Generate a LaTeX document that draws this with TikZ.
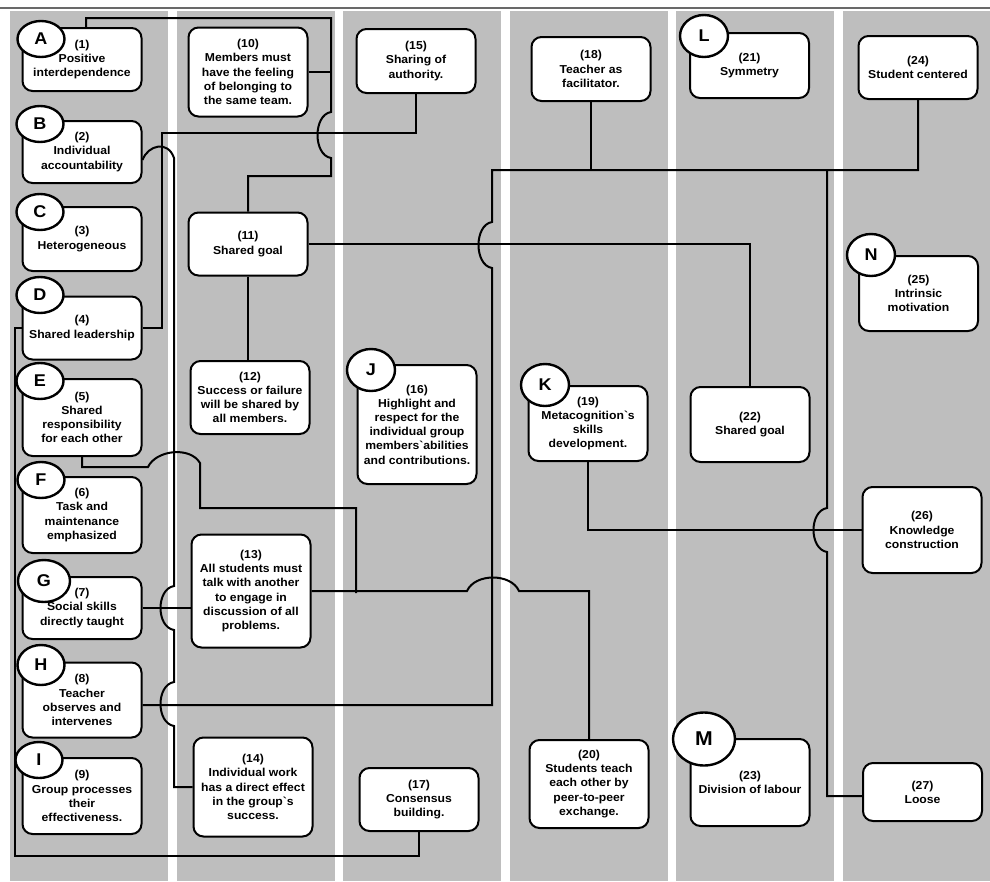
\documentclass[tikz,border=0pt]{standalone}
\usepackage{fontspec}
\setmainfont{Liberation Sans}[FakeStretch=1.06]
\usepackage{tikz}
\usetikzlibrary{shapes.geometric}
\definecolor{BandGray}{RGB}{190,190,190}
\definecolor{RuleGray}{RGB}{105,105,105}

\begin{document}
\begin{tikzpicture}[x=1pt, y=-1pt,
  box/.style={%
    rectangle, rounded corners=10pt,
    draw=black, line width=2pt, fill=white,
    font=\fontsize{11.5}{14.2}\selectfont\bfseries,
    minimum width=119pt, align=center, inner sep=3pt},
  tag/.style={%
    ellipse, draw=black, line width=2.4pt, fill=white,
    font=\fontsize{17}{17}\selectfont\bfseries,
    minimum width=47pt, minimum height=36pt, inner sep=0pt},
  link/.style={draw=black, line width=2pt}
]
\useasboundingbox (0,0) rectangle (990,881);
\fill[white] (0,0) rectangle (990,881);
\foreach \i in {0,...,5}
  \fill[BandGray] ({10+166.5*\i},11) rectangle ({min(168+166.5*\i,990)},881);
\draw[RuleGray, line width=1.5pt] (0,8) -- (990,8);

% column 1
\node[box, minimum height=63pt] (interdep) at (82,59.5) {(1)\\Positive\\interdependence};
\node[box, minimum height=62pt] (account)  at (82,152)  {(2)\\Individual\\accountability};
\node[box, minimum height=64pt] (hetero)   at (82,239)  {(3)\\Heterogeneous};
\node[box, minimum height=63pt] (leader)   at (82,328)  {(4)\\Shared leadership};
\node[box, minimum height=77pt] (respons)  at (82,417.5) {(5)\\Shared\\responsibility\\for each other};
\node[box, minimum height=76pt] (task)     at (82,515)  {(6)\\Task and\\maintenance\\emphasized};
\node[box, minimum height=62pt] (social)   at (82,608)  {(7)\\Social skills\\directly taught};
\node[box, minimum height=75pt] (observe)  at (82,700)  {(8)\\Teacher\\observes and\\intervenes};
\node[box, minimum height=76pt] (process)  at (82,796)  {(9)\\Group processes\\their\\effectiveness.};

% column 2
\node[box, minimum height=89pt]  (belong)  at (248,72) {(10)\\Members must\\have the feeling\\of belonging to\\the same team.};
\node[box, minimum height=63pt]  (goal)    at (248,244) {(11)\\Shared goal};
\node[box, minimum height=73pt]  (success) at (250,397.5) {(12)\\Success or failure\\will be shared by\\all members.};
\node[box, minimum height=113pt] (talk)    at (251,591) {(13)\\All students must\\talk with another\\to engage in\\discussion of all\\problems.};
\node[box, minimum height=99pt]  (indiv)   at (253,787) {(14)\\Individual work\\has a direct effect\\in the group\textasciigrave s\\success.};

% column 3
\node[box, minimum height=64pt]  (authority) at (416,61) {(15)\\Sharing of\\authority.};
\node[box, minimum height=119pt] (respect)   at (417,424.5) {(16)\\Highlight and\\respect for the\\individual group\\members\textasciigrave abilities\\and contributions.};
\node[box, minimum height=63pt]  (consensus) at (419,799.5) {(17)\\Consensus\\building.};

% column 4
\node[box, minimum height=64pt] (facil)   at (591,69) {(18)\\Teacher as\\facilitator.};
\node[box, minimum height=75pt] (metacog) at (588,423.5) {(19)\\Metacognition\textasciigrave s\\skills\\development.};
\node[box, minimum height=88pt] (peer)    at (589,784) {(20)\\Students teach\\each other by\\peer-to-peer\\exchange.};

% column 5
\node[box, minimum height=65pt] (symmetry) at (749.5,65.5) {(21)\\Symmetry};
\node[box, minimum height=75pt] (goalb)    at (750,424.5) {(22)\\Shared goal};
\node[box, minimum height=87pt] (labour)   at (750,782.5) {(23)\\Division of labour};

% column 6
\node[box, minimum height=63pt] (centered)  at (918,67.5) {(24)\\Student centered};
\node[box, minimum height=75pt] (intrinsic) at (918.5,293.5) {(25)\\Intrinsic\\motivation};
\node[box, minimum height=86pt] (knowledge) at (922,530) {(26)\\Knowledge\\construction};
\node[box, minimum height=58pt] (loose)     at (922.5,792) {(27)\\Loose};

% letter tags
\node[tag] (tagA) at (41,39)  {A};
\node[tag] (tagB) at (40,124) {B};
\node[tag] (tagC) at (40,212) {C};
\node[tag] (tagD) at (40,295) {D};
\node[tag] (tagE) at (40,381) {E};
\node[tag] (tagF) at (41,480) {F};
\node[tag, minimum width=52pt, minimum height=42pt] (tagG) at (44,581) {G};
\node[tag, minimum height=40pt] (tagH) at (41,665) {H};
\node[tag] (tagI) at (39,760) {I};
\node[tag, minimum width=48pt, minimum height=42pt] (tagJ) at (371,370) {J};
\node[tag, minimum width=48pt, minimum height=42pt] (tagK) at (545,385) {K};
\node[tag, minimum width=48pt, minimum height=42pt] (tagL) at (704,36)  {L};
\node[tag, minimum width=62pt, minimum height=53pt, font=\fontsize{20}{20}\selectfont\bfseries] (tagM) at (704,739) {M};
\node[tag, minimum width=48pt, minimum height=42pt] (tagN) at (871,255) {N};

% connectors
\draw[link] ([xshift=4pt]interdep.north) -- ([xshift=4pt]interdep.north |- 0,18) -| (331,112)
  .. controls (313,115) and (313,155) .. (331,158) -- (331,176) -| (goal.north);
\draw[link] (belong.east) -- (belong.east -| 331,0);
\draw[link] (authority.south) |- (162,133) |- (leader.east);
\draw[link] ([yshift=-8pt]account.east) .. controls (148,145) and (168,140) .. (174,158)
  -- (174,586) .. controls (156,589) and (156,627) .. (174,630)
  -- (174,682) .. controls (156,685) and (156,723) .. (174,726) |- (indiv.west);
\draw[link] (leader.west) -| (15,856) -| (consensus.south);
\draw[link] (respons.south) |- (148,467) .. controls (156,450) and (190,446) .. (200,463)
  |- (356,508) -- (356,593);
\draw[link] (talk.east) -- (467,591) .. controls (475,573) and (511,573) .. (519,591) -| (peer.north);
\draw[link] (social.east) -- (social.east -| talk.west);
\draw[link] ([yshift=-5pt]observe.east) -| (492,268)
  .. controls (474,265) and (474,225) .. (492,222) -- (492,170) -| (centered.south);
\draw[link] (facil.south) -- (facil.south |- 0,170);
\draw[link] (827,170) -- (827,508) .. controls (809,511) and (809,549) .. (827,552)
  |- ([yshift=-4pt]loose.west);
\draw[link] (goal.east) -| (goalb.north);
\draw[link] (goal.south) -- (goal.south |- success.north);
\draw[link] (metacog.south) |- (knowledge.west);
\end{tikzpicture}
\end{document}
